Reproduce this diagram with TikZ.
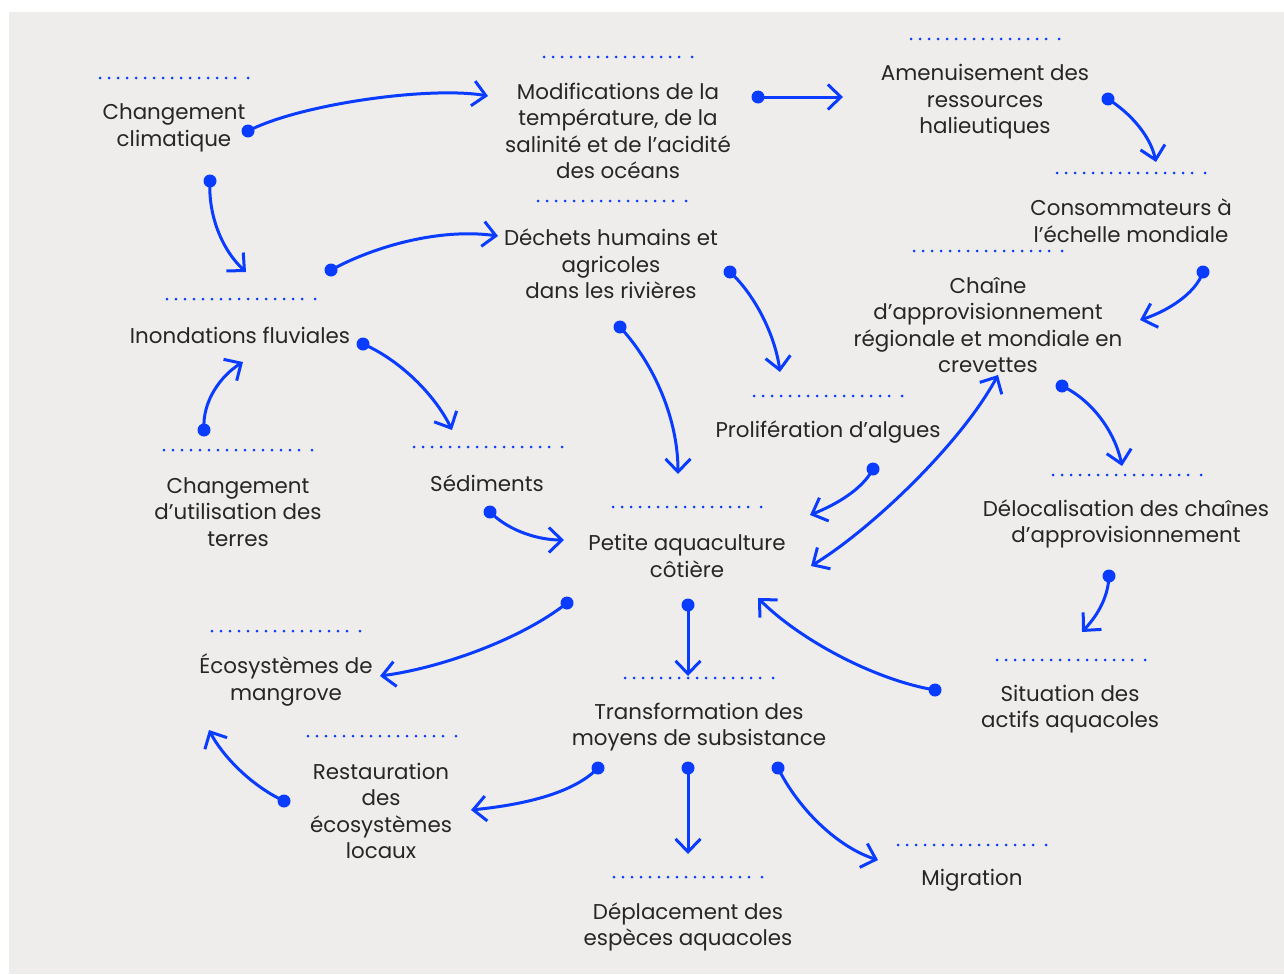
\documentclass[tikz,border=0pt]{standalone}
\usepackage{fontspec}
\setmainfont{Poppins}
\usetikzlibrary{arrows.meta}
\definecolor{bgc}{HTML}{EEEDEB}
\definecolor{bl}{HTML}{0A3CFF}
\definecolor{txt}{HTML}{262626}
\newcommand{\dotrow}[2]{%
  \foreach \k in {0,...,15}{\fill[bl] (#1-74+\k*9,#2) circle[radius=1.5];}
  \fill[bl] (#1+74,#2) circle[radius=1.5];}
\begin{document}
\begin{tikzpicture}[x=1pt,y=-1pt,
  lbl/.style={align=center, text=txt, font=\fontsize{21.4}{26.6}\selectfont, inner sep=0pt},
  conn/.style={draw=bl, line width=3pt, -{Straight Barb[length=13pt,width=25pt,line width=3pt]}},
  biconn/.style={draw=bl, line width=3pt, {Straight Barb[length=13pt,width=25pt,line width=3pt]}-{Straight Barb[length=13pt,width=25pt,line width=3pt]}},
  startdot/.style={fill=bl}]
\useasboundingbox (0,0) rectangle (1284,974);
\fill[bgc] (9,12) rectangle (1284,974);

% nodes
\node[lbl] (cc) at (174,128) {Changement\\climatique};
\node[lbl] (mod) at (618,131) {Modifications de la\\température, de la\\salinité et de l’acidité\\des océans};
\node[lbl] (amen) at (985,102) {Amenuisement des\\ressources\\halieutiques};
\node[lbl] (cons) at (1131,221) {Consommateurs à\\l’échelle mondiale};
\node[lbl] (chaine) at (988,325) {Chaîne\\d’approvisionnement\\régionale et mondiale en\\crevettes};
\node[lbl] (dech) at (611,264) {Déchets humains et\\agricoles\\dans les rivières};
\node[lbl] (inond) at (240,335) {Inondations fluviales};
\node[lbl] (util) at (238,512) {Changement\\d’utilisation des\\terres};
\node[lbl] (sed) at (487,483) {Sédiments};
\node[lbl] (prolif) at (828,432) {Prolifération d’algues};
\node[lbl] (petite) at (687,556) {Petite aquaculture\\côtière};
\node[lbl] (deloc) at (1126,524) {Délocalisation des chaînes\\d’approvisionnement};
\node[lbl] (situ) at (1070,709) {Situation des\\actifs aquacoles};
\node[lbl] (mang) at (286,680) {Écosystèmes de\\mangrove};
\node[lbl] (transf) at (699,727) {Transformation des\\moyens de subsistance};
\node[lbl] (restau) at (381,811) {Restauration\\des\\écosystèmes\\locaux};
\node[lbl] (depl) at (688,927) {Déplacement des\\espèces aquacoles};
\node[lbl] (migr) at (972,880) {Migration};

% dotted rules above labels
\dotrow{174}{78}
\dotrow{618}{57}
\dotrow{985}{39}
\dotrow{1131}{173}
\dotrow{988}{251}
\dotrow{612}{201}
\dotrow{241}{299}
\dotrow{238}{450}
\dotrow{488}{447}
\dotrow{828}{396}
\dotrow{687}{507}
\dotrow{1127}{475}
\dotrow{1071}{660}
\dotrow{286}{631}
\dotrow{699}{678}
\dotrow{382}{736}
\dotrow{688}{877}
\dotrow{972}{845}

% connector end points
\coordinate (cc-a) at (248,131);   \coordinate (mod-a) at (488,96);
\coordinate (mod-b) at (758,97);   \coordinate (amen-b) at (843,97);
\coordinate (amen-c) at (1108,99); \coordinate (cons-c) at (1156,162);
\coordinate (cc-d) at (210,181);   \coordinate (inond-d) at (246,272);
\coordinate (inond-e) at (331,270); \coordinate (dech-e) at (498,236);
\coordinate (dech-f) at (730,272); \coordinate (prolif-f) at (780,372);
\coordinate (dech-g) at (620,327); \coordinate (petite-g) at (678,474);
\coordinate (cons-h) at (1203,272); \coordinate (chaine-h) at (1140,320);
\coordinate (chaine-i) at (1062,386); \coordinate (deloc-i) at (1122,466);
\coordinate (inond-j) at (363,344); \coordinate (sed-j) at (452,430);
\coordinate (util-k) at (204,430); \coordinate (inond-k) at (243,362);
\coordinate (sed-l) at (490,512);  \coordinate (petite-l) at (564,540);
\coordinate (prolif-m) at (873,469); \coordinate (petite-m) at (810,515);
\coordinate (petite-n) at (811,566); \coordinate (chaine-n) at (998,375);
\coordinate (petite-o) at (567,603); \coordinate (mang-o) at (380,676);
\coordinate (petite-p) at (688,605); \coordinate (transf-p) at (688,676);
\coordinate (situ-q) at (935,690); \coordinate (petite-q) at (758,598);
\coordinate (deloc-r) at (1109,576); \coordinate (situ-r) at (1082,632);
\coordinate (restau-s) at (284,801); \coordinate (mang-s) at (209,730);
\coordinate (transf-t) at (598,768); \coordinate (restau-t) at (471,810);
\coordinate (transf-u) at (688,768); \coordinate (depl-u) at (688,854);
\coordinate (transf-v) at (778,768); \coordinate (migr-v) at (878,860);

% connectors
\draw[conn] (cc-a) .. controls (300,104) and (430,86) .. (mod-a);
\draw[conn] (mod-b) -- (amen-b);
\draw[conn] (amen-c) .. controls (1130,113) and (1150,135) .. (cons-c);
\draw[conn] (cc-d) .. controls (208,215) and (222,250) .. (inond-d);
\draw[conn] (inond-e) .. controls (375,246) and (440,228) .. (dech-e);
\draw[conn] (dech-f) .. controls (755,295) and (775,335) .. (prolif-f);
\draw[conn] (dech-g) .. controls (655,365) and (678,420) .. (petite-g);
\draw[conn] (cons-h) .. controls (1195,295) and (1165,312) .. (chaine-h);
\draw[conn] (chaine-i) .. controls (1092,400) and (1115,432) .. (deloc-i);
\draw[conn] (inond-j) .. controls (400,360) and (435,395) .. (sed-j);
\draw[conn] (util-k) .. controls (202,400) and (222,375) .. (inond-k);
\draw[conn] (sed-l) .. controls (510,532) and (540,540) .. (petite-l);
\draw[conn] (prolif-m) .. controls (862,490) and (835,505) .. (petite-m);
\draw[biconn] (petite-n) .. controls (870,530) and (960,445) .. (chaine-n);
\draw[conn] (petite-o) .. controls (520,640) and (440,668) .. (mang-o);
\draw[conn] (petite-p) -- (transf-p);
\draw[conn] (situ-q) .. controls (875,680) and (800,640) .. (petite-q);
\draw[conn] (deloc-r) .. controls (1108,600) and (1095,618) .. (situ-r);
\draw[conn] (restau-s) .. controls (250,785) and (222,755) .. (mang-s);
\draw[conn] (transf-t) .. controls (570,797) and (510,806) .. (restau-t);
\draw[conn] (transf-u) -- (depl-u);
\draw[conn] (transf-v) .. controls (800,812) and (840,848) .. (migr-v);

% start dots
\foreach \p in {cc-a,mod-b,amen-c,cc-d,inond-e,dech-f,dech-g,cons-h,chaine-i,inond-j,util-k,sed-l,prolif-m,petite-o,petite-p,situ-q,deloc-r,restau-s,transf-t,transf-u,transf-v}
  \fill[startdot] (\p) circle[radius=6.5];
\end{tikzpicture}
\end{document}
